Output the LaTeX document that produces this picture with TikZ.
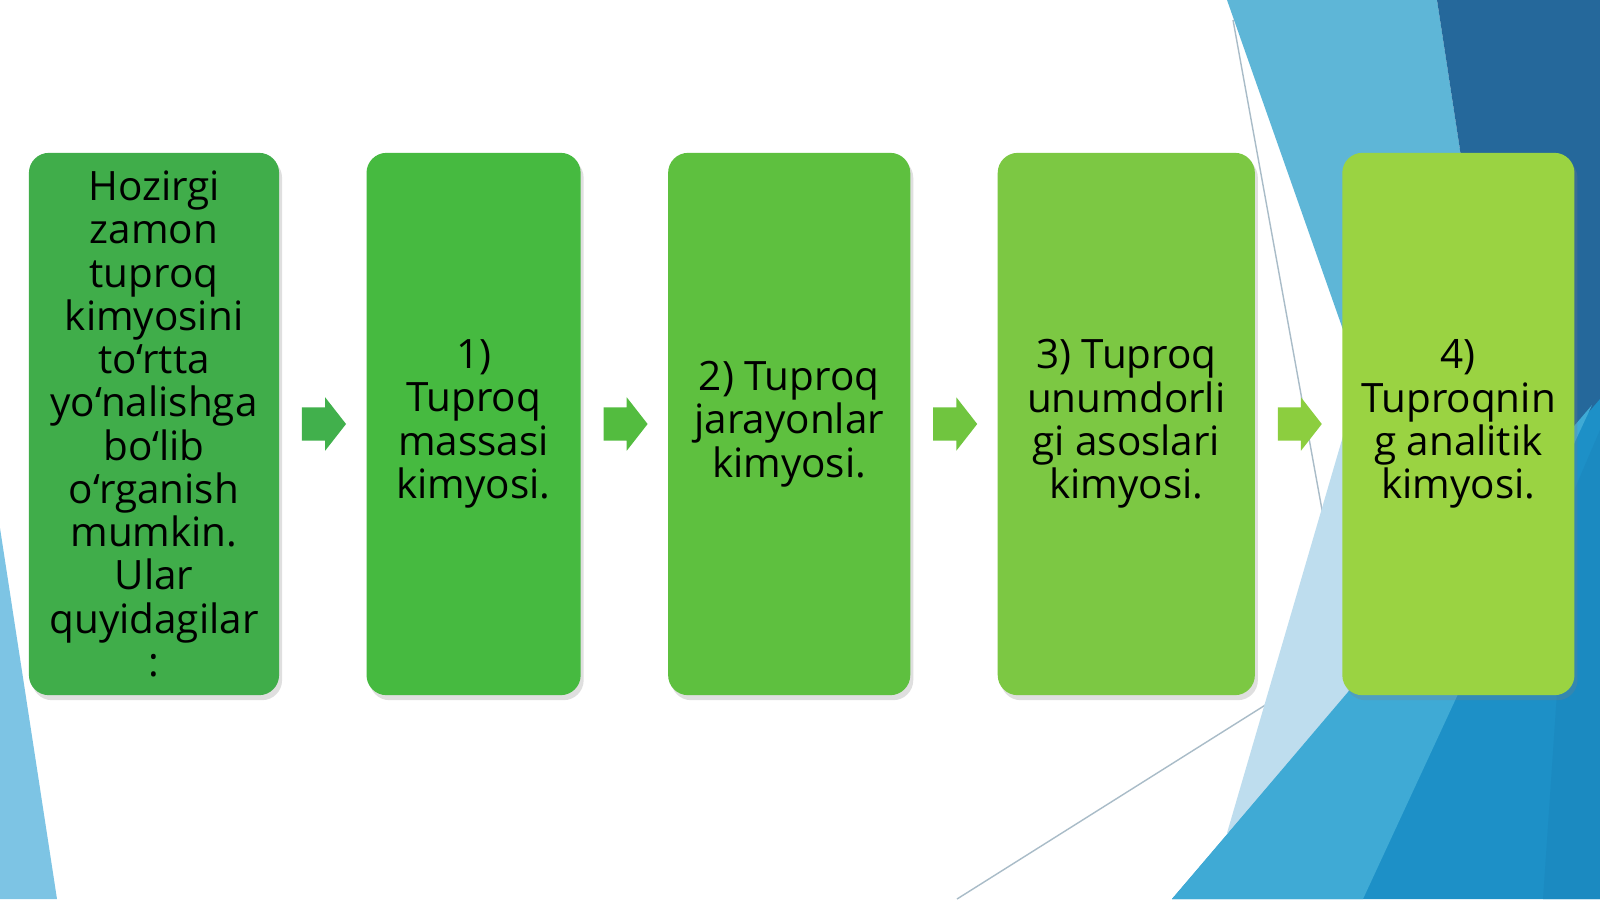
\documentclass[tikz,border=0pt]{standalone}
\usepackage{fontspec}
\setmainfont{Open Sans}
\usepackage{xcolor}
\usetikzlibrary{positioning, shapes.arrows, shadows}

\definecolor{greenA}{HTML}{40AD4A}
\definecolor{greenB}{HTML}{46BA40}
\definecolor{greenC}{HTML}{5EC03F}
\definecolor{greenD}{HTML}{7CC843}
\definecolor{greenE}{HTML}{9AD342}
\definecolor{arrowA}{HTML}{41B04C}
\definecolor{arrowB}{HTML}{53BC3F}
\definecolor{arrowC}{HTML}{70C53F}
\definecolor{arrowD}{HTML}{8CCE3F}
\definecolor{blueLight}{HTML}{5EB6D7}
\definecolor{bluePale}{HTML}{BEDDEE}
\definecolor{blueDark}{HTML}{25689B}
\definecolor{blueMid}{HTML}{1D90C7}
\definecolor{blueMidLight}{HTML}{3FAAD5}
\definecolor{blueDeep}{HTML}{1B8AC1}
\definecolor{blueSide}{HTML}{7DC4E4}
\definecolor{lineGray}{HTML}{A9BCC8}

\begin{document}
\begin{tikzpicture}[
        x=0.01cm, y=-0.01cm,
        node distance=0.86cm,
        every node/.style={font=\fontsize{11.5}{12.3}\selectfont},
        box/.style={rectangle, rounded corners=0.2cm, minimum height=5.42cm, inner sep=0pt, align=center, text=black, drop shadow={opacity=0.25, shadow xshift=0.3mm, shadow yshift=-0.5mm}},
        stepArrow/.style={single arrow, minimum height=0.44cm, inner xsep=0pt, inner ysep=0.16cm, single arrow head extend=0.1cm, single arrow tip angle=104}
    ]

    \useasboundingbox (0,0) rectangle (1600,899);
    \fill[white] (0,0) rectangle (1600,899);

    \draw[lineGray, line width=0.4pt] (1233,20) -- (1348,653) -- (957,899);
    \fill[blueLight] (1227,0) -- (1437,0) -- (1506,450) -- (1360,378) -- cycle;
    \fill[bluePale] (1360,378) -- (1227,833) -- (1500,700) -- (1500,378) -- cycle;
    \fill[blueDark] (1437,0) -- (1600,0) -- (1600,450) -- (1506,450) -- cycle;
    \fill[blueMid] (1172,899) -- (1600,399) -- (1600,899) -- cycle;
    \fill[blueMidLight] (1172,899) -- (1363,899) -- (1592,405) -- cycle;
    \fill[blueDeep] (1543,899) -- (1600,899) -- (1600,430) -- (1570,500) -- cycle;
    \fill[blueSide] (0,528) -- (57,899) -- (0,899) -- cycle;

    \node[box, fill=greenA, minimum width=2.5cm] (intro) at (154,424) {Hozirgi\\zamon\\tuproq\\kimyosini\\to‘rtta\\yo‘nalishga\\bo‘lib\\o‘rganish\\mumkin.\\Ular\\quyidagilar\\:};
    \node[box, fill=greenB, minimum width=2.14cm, right=of intro] (mass) {1)\\Tuproq\\massasi\\kimyosi.};
    \node[box, fill=greenC, minimum width=2.42cm, right=of mass] (process) {2) Tuproq\\jarayonlar\\kimyosi.};
    \node[box, fill=greenD, minimum width=2.57cm, right=of process] (fertility) {3) Tuproq\\unumdorli\\gi asoslari\\kimyosi.};
    \node[box, fill=greenE, minimum width=2.32cm, right=of fertility] (analytic) {4)\\Tuproqnin\\g analitik\\kimyosi.};

    \node[stepArrow, fill=arrowA, right=0.215cm of intro] (arr1) {};
    \node[stepArrow, fill=arrowB, right=0.215cm of mass] (arr2) {};
    \node[stepArrow, fill=arrowC, right=0.215cm of process] (arr3) {};
    \node[stepArrow, fill=arrowD, right=0.215cm of fertility] (arr4) {};

\end{tikzpicture}
\end{document}
